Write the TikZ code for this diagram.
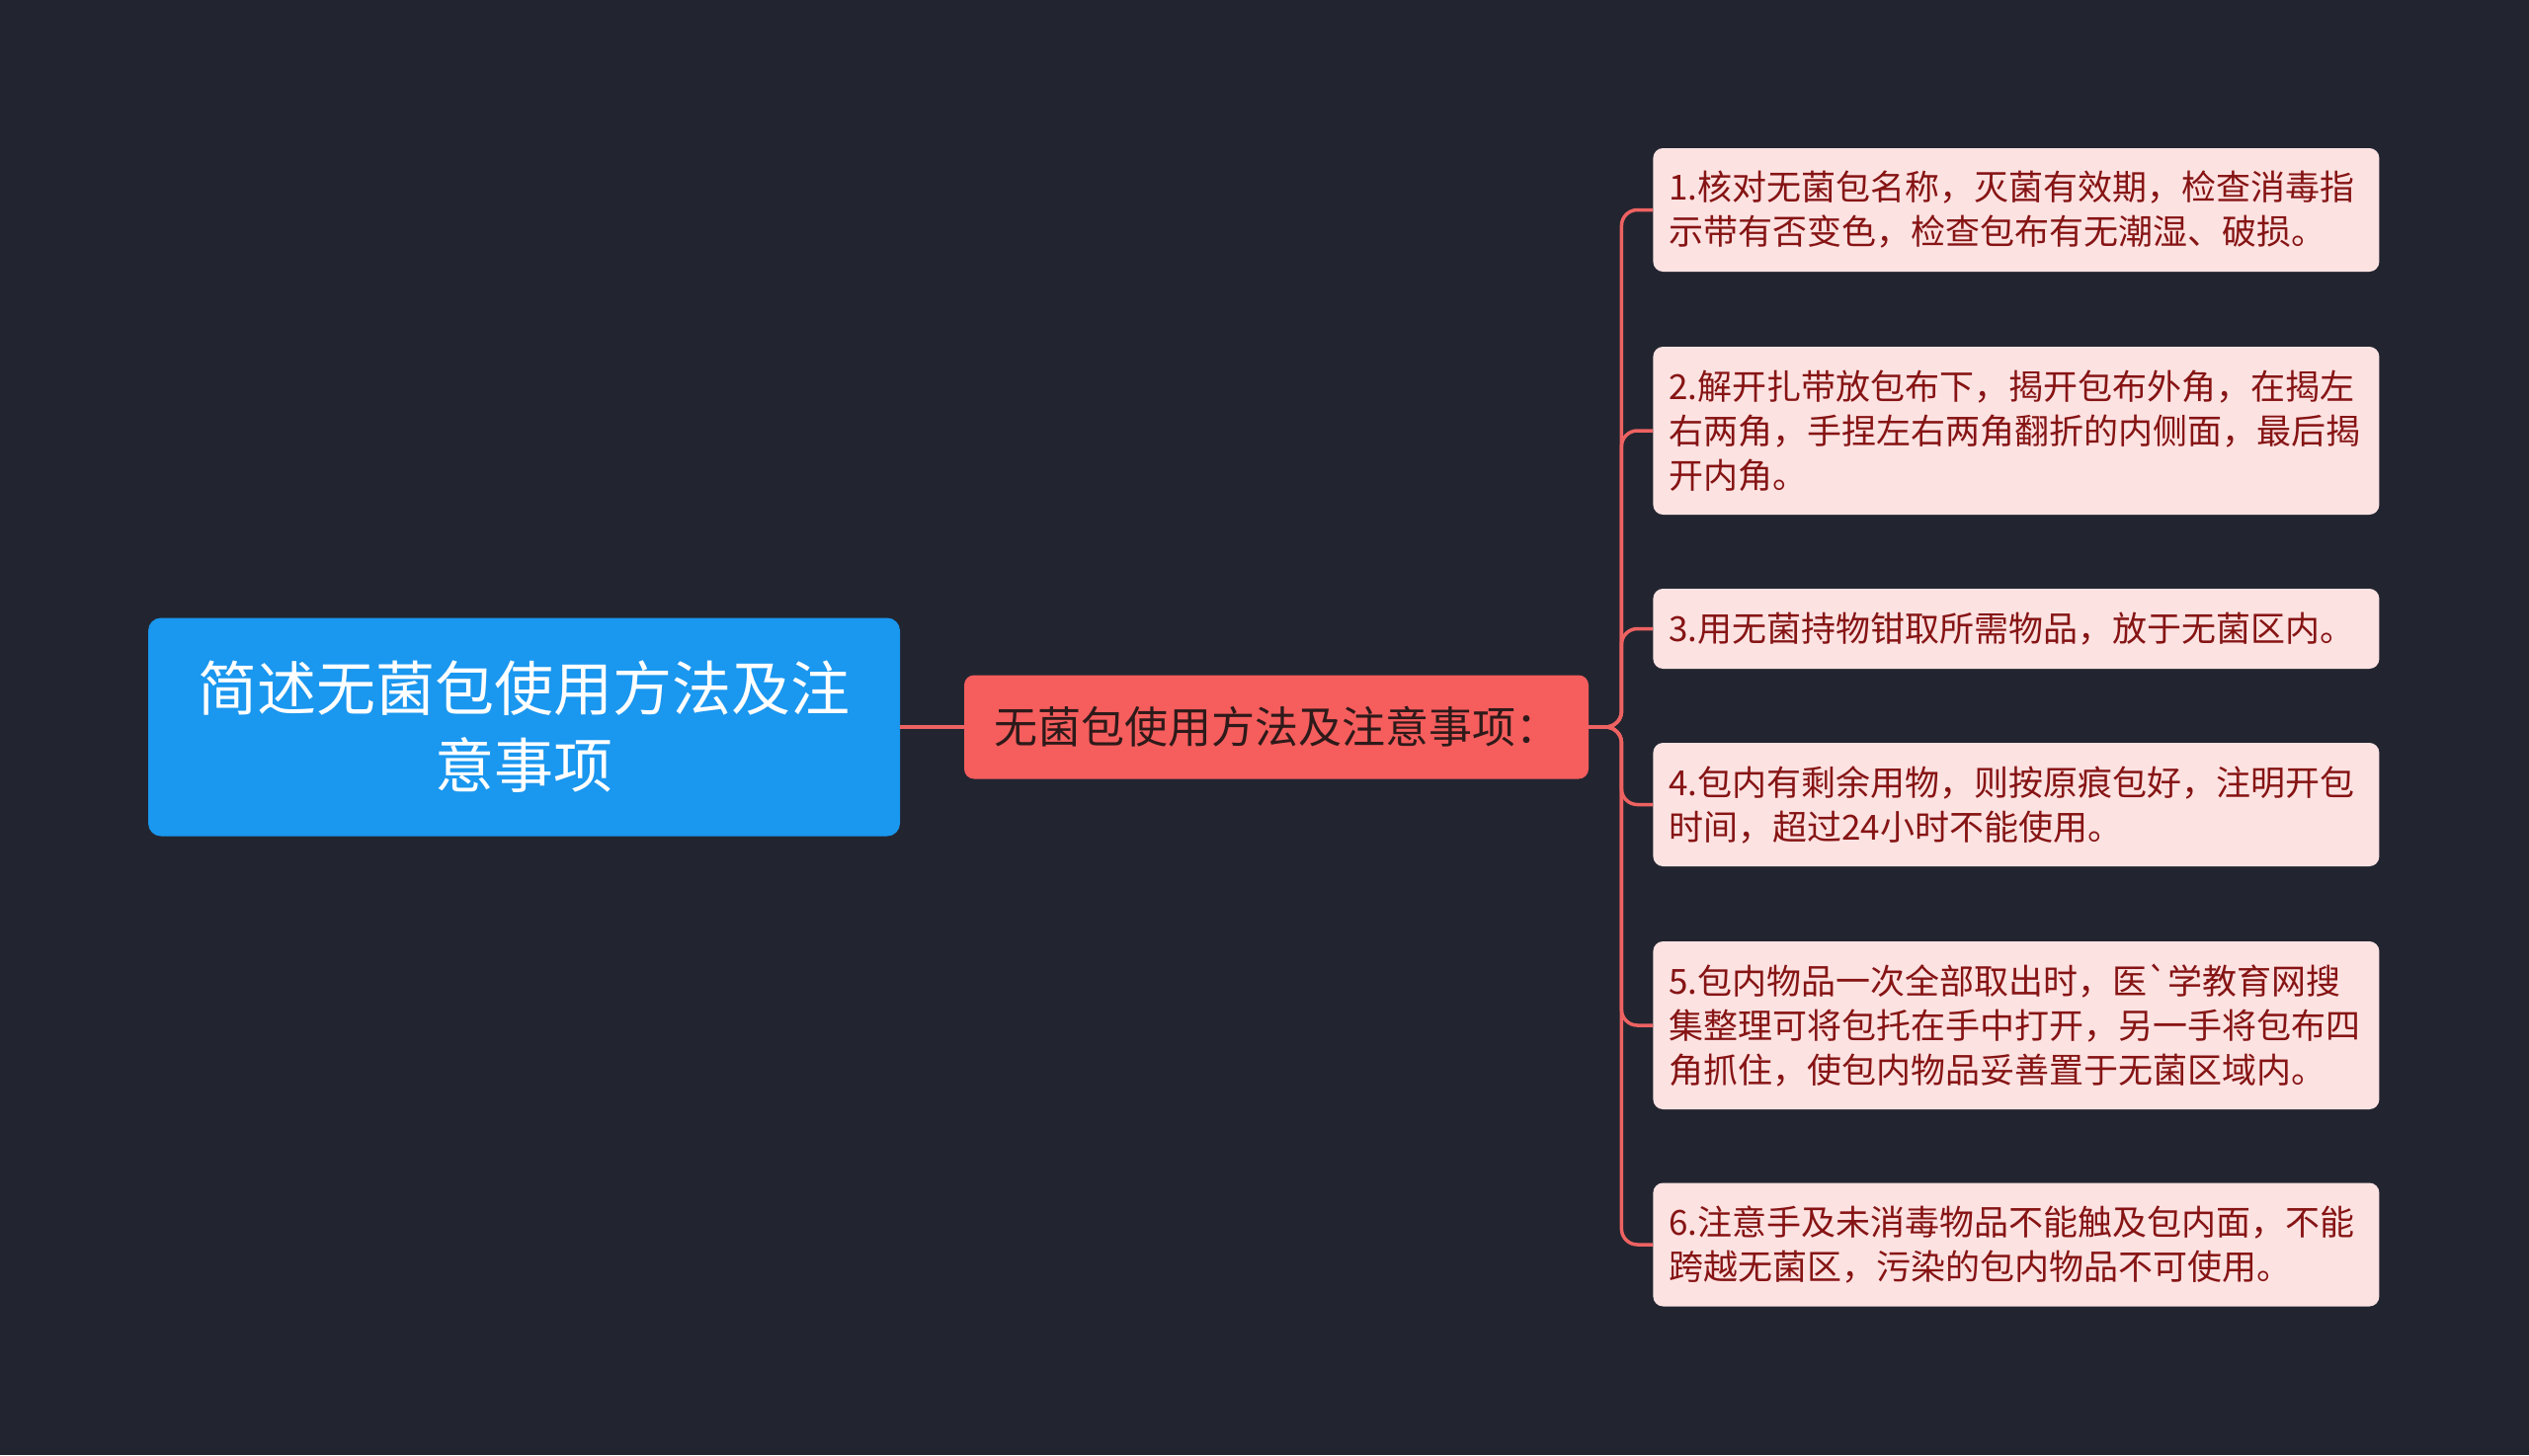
\documentclass[tikz,border=0pt]{standalone}
\usepackage{fontspec}
\newfontfamily\cjk{Noto Sans CJK SC}
\usetikzlibrary{positioning}

\begin{document}
\begin{tikzpicture}[x=0.5pt,y=-0.5pt,
  every node/.style={font=\cjk},
  rootbox/.style={fill=ROOTFILL,rounded corners=6.5pt,minimum width=380.5pt,minimum height=110.5pt,align=center,text=white,font=\cjk\fontsize{30pt}{39pt}\selectfont},
  midbox/.style={fill=MIDFILL,rounded corners=5pt,minimum width=316pt,minimum height=52.5pt,text=MIDTEXT,font=\cjk\fontsize{22pt}{28pt}\selectfont},
  leafbox/.style={fill=LEAFFILL,rounded corners=5pt,anchor=west,inner xsep=8pt,inner ysep=0pt,text width=351.5pt,align=left,text=LEAFTEXT,font=\cjk\fontsize{17.5pt}{22.5pt}\selectfont},
  link/.style={draw=LINECOL,line width=1.75pt,rounded corners=8pt}]
\definecolor{BGCOL}{HTML}{222530}
\definecolor{ROOTFILL}{HTML}{1A97EF}
\definecolor{MIDFILL}{HTML}{F65D5D}
\definecolor{MIDTEXT}{HTML}{2E1A1A}
\definecolor{LEAFFILL}{HTML}{FDE2E2}
\definecolor{LEAFTEXT}{HTML}{861414}
\definecolor{LINECOL}{HTML}{EE6262}
\fill[BGCOL] (0,0) rectangle (2560,1473);
\node[rootbox] (root) at (530.5,736) {简述无菌包使用方法及注\\意事项};
\node[midbox] (mid) at (1292,736) {无菌包使用方法及注意事项：};
\draw[link] (root.east) -- (mid.west);
\foreach \n/\y/\h/\t in {
  l1/212.5/62.5pt/{1.核对无菌包名称，灭菌有效期，检查消毒指\\示带有否变色，检查包布有无潮湿、破损。},
  l2/436/85pt/{2.解开扎带放包布下，揭开包布外角，在揭左\\右两角，手捏左右两角翻折的内侧面，最后揭\\开内角。},
  l3/636.5/40.5pt/{3.用无菌持物钳取所需物品，放于无菌区内。},
  l4/814.5/62.5pt/{4.包内有剩余用物，则按原痕包好，注明开包\\时间，超过24小时不能使用。},
  l5/1038/85pt/{5.包内物品一次全部取出时，医`学教育网搜\\集整理可将包托在手中打开，另一手将包布四\\角抓住，使包内物品妥善置于无菌区域内。},
  l6/1260/62.5pt/{6.注意手及未消毒物品不能触及包内面，不能\\跨越无菌区，污染的包内物品不可使用。}}{
  \node[leafbox,minimum height=\h] (\n) at (1673,\y) {\t};
  \draw[link] (mid.east) -- ++(33,0) |- (\n.west);
}
\end{tikzpicture}
\end{document}
